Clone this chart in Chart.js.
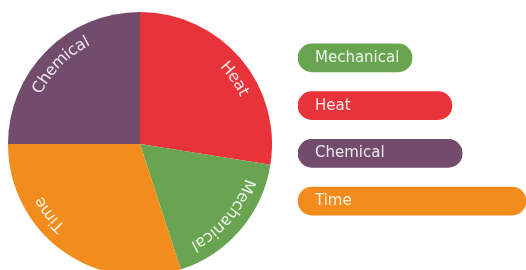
<!DOCTYPE html>
<html>
<head>
<meta charset="utf-8">
<script src="https://cdn.jsdelivr.net/npm/chart.js@4/dist/chart.umd.min.js"></script>
<style>
  html, body { margin: 0; padding: 0; background: #ffffff; overflow: hidden; width: 526px; height: 270px; }
  #pieWrap { position: absolute; left: 8px; top: 12px; width: 264px; height: 264px; }
  #barWrap { position: absolute; left: 298px; top: 34px; width: 228px; height: 191px; }
</style>
</head>
<body>
<div id="pieWrap"><canvas id="pie"></canvas></div>
<div id="barWrap"><canvas id="bar"></canvas></div>
<script>
// ---- data ----
const pieLabels = ["Heat", "Mechanical", "Time", "Chemical"];
const pieValues = [27.5, 17.5, 30, 25];
const pieColors = ["#E8333A", "#69A550", "#F28C1C", "#724B6D"];

const barLabels = ["Mechanical", "Heat", "Chemical", "Time"];
const barValues = [50, 67.5, 72, 100];
const barColors = ["#69A550", "#E8333A", "#724B6D", "#F28C1C"];
const barMax = 100;

// label angle shifts (degrees) for the curved pie labels
const labelShiftDeg = [6, 0, 16, 0];

const FONT = "'DejaVu Sans', Verdana, sans-serif";
const TEXT_COLOR = "rgba(255,255,255,0.88)";

const curvedLabels = {
  id: 'curvedLabels',
  afterDatasetsDraw(chart) {
    const ctx = chart.ctx;
    const meta = chart.getDatasetMeta(0);
    ctx.save();
    ctx.font = "16px " + FONT;
    ctx.fillStyle = TEXT_COLOR;
    ctx.textAlign = 'center';
    ctx.textBaseline = 'middle';
    meta.data.forEach((arc, i) => {
      const p = arc.getProps(['x', 'y', 'startAngle', 'endAngle', 'outerRadius'], true);
      const mid = (p.startAngle + p.endAngle) / 2 + labelShiftDeg[i] * Math.PI / 180;
      const r = p.outerRadius - 17;
      const text = chart.data.labels[i];
      const total = ctx.measureText(text).width / r;
      let a = mid - total / 2;
      for (const ch of text) {
        const w = ctx.measureText(ch).width / r;
        const ca = a + w / 2;
        ctx.save();
        ctx.translate(p.x + r * Math.cos(ca), p.y + r * Math.sin(ca));
        ctx.rotate(ca + Math.PI / 2);
        ctx.fillText(ch, 0, 0);
        ctx.restore();
        a += w;
      }
    });
    ctx.restore();
  }
};

new Chart(document.getElementById('pie'), {
  type: 'pie',
  data: {
    labels: pieLabels,
    datasets: [{ data: pieValues, backgroundColor: pieColors, borderWidth: 0 }]
  },
  options: {
    responsive: true,
    maintainAspectRatio: false,
    animation: false,
    layout: { padding: 0 },
    plugins: { legend: { display: false }, tooltip: { enabled: false } }
  },
  plugins: [curvedLabels]
});

const barText = {
  id: 'barText',
  afterDatasetsDraw(chart) {
    const ctx = chart.ctx;
    const meta = chart.getDatasetMeta(0);
    ctx.save();
    ctx.font = "15px " + FONT;
    ctx.fillStyle = TEXT_COLOR;
    ctx.textAlign = 'left';
    ctx.textBaseline = 'middle';
    meta.data.forEach((bar, i) => {
      const p = bar.getProps(['base', 'y'], true);
      ctx.fillText(chart.data.labels[i], p.base + 17, p.y);
    });
    ctx.restore();
  }
};

new Chart(document.getElementById('bar'), {
  type: 'bar',
  data: {
    labels: barLabels,
    datasets: [{
      data: barValues,
      backgroundColor: barColors,
      borderRadius: 14,
      borderSkipped: false,
      barThickness: 28
    }]
  },
  options: {
    indexAxis: 'y',
    responsive: true,
    maintainAspectRatio: false,
    animation: false,
    layout: { padding: 0 },
    scales: {
      x: { display: false, min: 0, max: barMax },
      y: { display: false }
    },
    plugins: { legend: { display: false }, tooltip: { enabled: false } }
  },
  plugins: [barText]
});
</script>
</body>
</html>
